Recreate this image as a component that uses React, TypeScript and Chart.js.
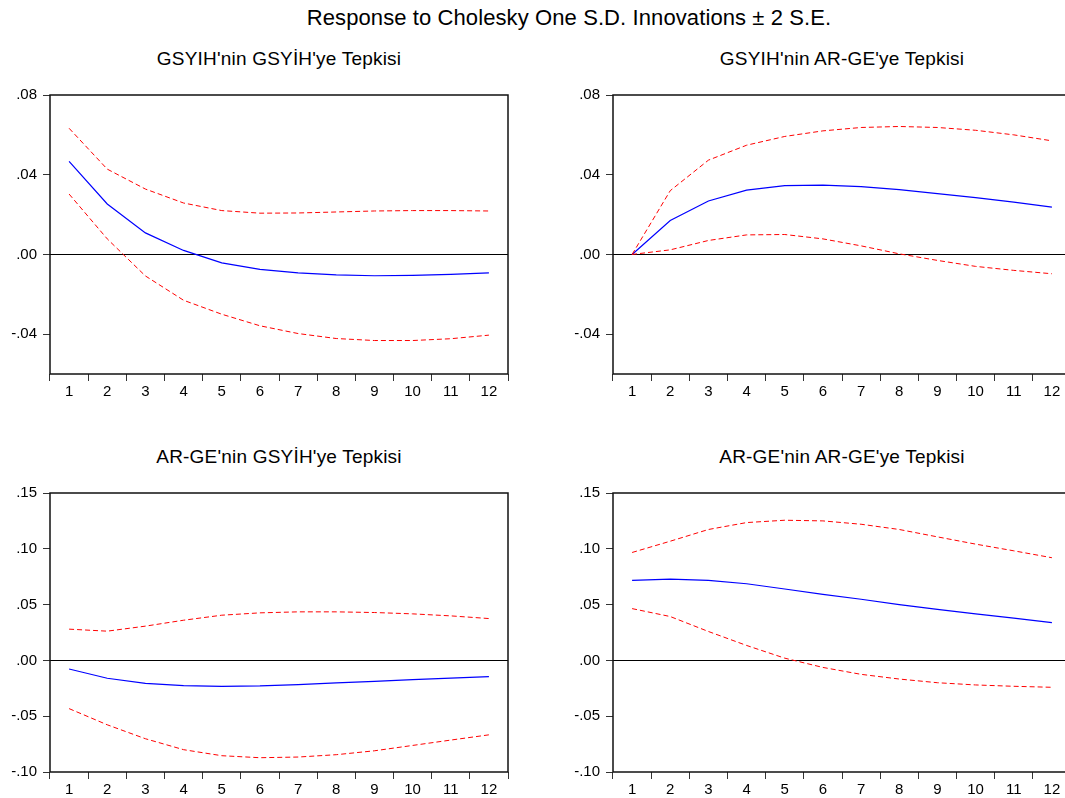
import React, { useEffect, useRef } from 'react';
import { Chart, registerables } from 'chart.js';

Chart.register(...registerables);

// ---- data ----
const periods = ['1', '2', '3', '4', '5', '6', '7', '8', '9', '10', '11', '12'];

const topTicks = [-0.04, 0, 0.04, 0.08];
const topTickLabels = ['-.04', '.00', '.04', '.08'];
const bottomTicks = [-0.1, -0.05, 0, 0.05, 0.1, 0.15];
const bottomTickLabels = ['-.10', '-.05', '.00', '.05', '.10', '.15'];

const mainTitle = 'Response to Cholesky One S.D. Innovations \u00b1 2 S.E.';
const titles = [
  "GSYIH'nin GSYİH'ye Tepkisi",
  "GSYIH'nin AR-GE'ye Tepkisi",
  "AR-GE'nin GSYİH'ye Tepkisi",
  "AR-GE'nin AR-GE'ye Tepkisi",
];

// GSYIH response to GSYIH
const p1Resp = [0.0467, 0.0253, 0.0108, 0.002, -0.0042, -0.0075, -0.0093, -0.0103, -0.0107, -0.0105, -0.01, -0.0093];
const p1Upper = [0.0633, 0.0428, 0.0328, 0.0258, 0.022, 0.0207, 0.0208, 0.0213, 0.0218, 0.022, 0.022, 0.0218];
const p1Lower = [0.0303, 0.0078, -0.0108, -0.023, -0.03, -0.0358, -0.0397, -0.0422, -0.0432, -0.0432, -0.0423, -0.0405];

// GSYIH response to AR-GE
const p2Resp = [0, 0.017, 0.0268, 0.0323, 0.0345, 0.0348, 0.034, 0.0325, 0.0305, 0.0285, 0.0262, 0.0237];
const p2Upper = [0, 0.032, 0.0473, 0.0548, 0.0592, 0.062, 0.0637, 0.0642, 0.0637, 0.0623, 0.06, 0.057];
const p2Lower = [0, 0.0023, 0.007, 0.0098, 0.01, 0.0078, 0.0043, 0.0003, -0.003, -0.006, -0.008, -0.0097];

// AR-GE response to GSYIH
const p3Resp = [-0.0077, -0.016, -0.0205, -0.0226, -0.0232, -0.0229, -0.0217, -0.0202, -0.0188, -0.0173, -0.0158, -0.0146];
const p3Upper = [0.028, 0.0262, 0.0307, 0.036, 0.0405, 0.0426, 0.0435, 0.0435, 0.0429, 0.0417, 0.0399, 0.0375];
const p3Lower = [-0.0432, -0.0577, -0.0702, -0.08, -0.0854, -0.0872, -0.0866, -0.0845, -0.081, -0.0762, -0.0714, -0.0667];

// AR-GE response to AR-GE
const p4Resp = [0.0717, 0.0729, 0.0717, 0.0687, 0.064, 0.0592, 0.0548, 0.05, 0.0458, 0.0417, 0.0378, 0.0339];
const p4Upper = [0.0967, 0.1068, 0.1173, 0.1235, 0.1256, 0.125, 0.122, 0.1173, 0.1107, 0.1042, 0.0982, 0.092];
const p4Lower = [0.0464, 0.0393, 0.0259, 0.0134, 0.002, -0.0063, -0.0125, -0.0167, -0.02, -0.022, -0.0232, -0.0241];

const FONT = "'Liberation Sans', Arial, Helvetica, sans-serif";

const framePlugin = {
  id: 'frame',
  afterDraw(chart: any) {
    const { ctx, chartArea } = chart;
    ctx.save();
    ctx.strokeStyle = '#111';
    ctx.lineWidth = 1.5;
    ctx.strokeRect(chartArea.left, chartArea.top, chartArea.right - chartArea.left, chartArea.bottom - chartArea.top);
    ctx.restore();
  },
};

type PanelProps = {
  title: string;
  resp: number[];
  upper: number[];
  lower: number[];
  yMin: number;
  yMax: number;
  ticks: number[];
  tickLabels: string[];
  left: number;
  top: number;
};

function Panel({ title, resp, upper, lower, yMin, yMax, ticks, tickLabels, left, top }: PanelProps) {
  const ref = useRef<HTMLCanvasElement | null>(null);
  useEffect(() => {
    if (!ref.current) return;
    const chart = new Chart(ref.current, {
      type: 'line',
      data: {
        labels: periods,
        datasets: [
          { data: upper, borderColor: '#ff0000', borderWidth: 1, borderDash: [5, 3], pointRadius: 0, tension: 0, fill: false },
          { data: lower, borderColor: '#ff0000', borderWidth: 1, borderDash: [5, 3], pointRadius: 0, tension: 0, fill: false },
          { data: resp, borderColor: '#0000ff', borderWidth: 1.2, pointRadius: 0, tension: 0, fill: false },
        ],
      },
      options: {
        responsive: false,
        animation: false,
        events: [],
        layout: { padding: { top: 10, right: 12, left: 0, bottom: 0 } },
        plugins: { legend: { display: false }, tooltip: { enabled: false }, title: { display: false } },
        scales: {
          x: {
            type: 'category',
            offset: true,
            border: { display: false },
            grid: { offset: true, drawOnChartArea: false, tickLength: 7, color: '#333', lineWidth: 1 },
            ticks: { color: '#000', font: { family: FONT, size: 15 }, padding: 2, maxRotation: 0, autoSkip: false },
            afterFit: (scale: any) => { scale.height = 30; },
          },
          y: {
            type: 'linear',
            min: yMin,
            max: yMax,
            border: { display: false },
            grid: {
              drawOnChartArea: true,
              tickLength: 7,
              tickColor: '#333',
              color: (c: any) => (c.tick && Math.abs(c.tick.value) < 1e-9 ? '#000' : 'rgba(0,0,0,0)'),
              lineWidth: 1,
            },
            afterBuildTicks: (scale: any) => { scale.ticks = ticks.map((v) => ({ value: v })); },
            ticks: {
              color: '#000',
              font: { family: FONT, size: 15 },
              padding: 6,
              callback: (_v: any, i: number) => tickLabels[i],
            },
            afterFit: (scale: any) => { scale.width = 50; },
          },
        },
      },
      plugins: [framePlugin],
    } as any);
    return () => chart.destroy();
  }, []);

  return (
    <>
      <div
        style={{
          position: 'absolute',
          left: left + 50,
          top: top - 45,
          width: 458,
          textAlign: 'center',
          fontFamily: FONT,
          fontSize: 19,
          letterSpacing: '0.2px',
          lineHeight: '19px',
          color: '#000',
          whiteSpace: 'nowrap',
        }}
      >
        {title}
      </div>
      <canvas ref={ref} width={520} height={324} style={{ position: 'absolute', left, top: top - 14 }} />
    </>
  );
}

export default function App() {
  return (
    <div
      style={{
        position: 'fixed',
        left: 0,
        top: 0,
        width: 1065,
        height: 798,
        overflow: 'hidden',
        background: '#fff',
      }}
    >
      <div
        style={{
          position: 'absolute',
          left: 0,
          top: 7,
          width: 1138,
          textAlign: 'center',
          fontFamily: FONT,
          fontSize: 22,
          letterSpacing: '0.1px',
          lineHeight: '22px',
          color: '#000',
          whiteSpace: 'nowrap',
        }}
      >
        {mainTitle}
      </div>
      <Panel title={titles[0]} resp={p1Resp} upper={p1Upper} lower={p1Lower} yMin={-0.06} yMax={0.08} ticks={topTicks} tickLabels={topTickLabels} left={0} top={94} />
      <Panel title={titles[1]} resp={p2Resp} upper={p2Upper} lower={p2Lower} yMin={-0.06} yMax={0.08} ticks={topTicks} tickLabels={topTickLabels} left={563} top={94} />
      <Panel title={titles[2]} resp={p3Resp} upper={p3Upper} lower={p3Lower} yMin={-0.1} yMax={0.15} ticks={bottomTicks} tickLabels={bottomTickLabels} left={0} top={492} />
      <Panel title={titles[3]} resp={p4Resp} upper={p4Upper} lower={p4Lower} yMin={-0.1} yMax={0.15} ticks={bottomTicks} tickLabels={bottomTickLabels} left={563} top={492} />
    </div>
  );
}
